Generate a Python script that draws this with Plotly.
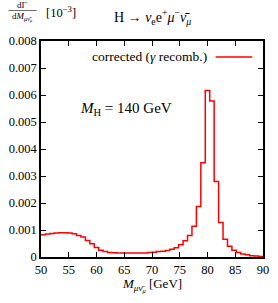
import plotly.graph_objects as go

# bin edges: 50 bins of 0.8 GeV from 50 to 90
x_start = 50.0
bin_width = 0.8
values = [
    0.00082, 0.00085, 0.00087, 0.00089, 0.00090, 0.00090, 0.00089, 0.00086, 0.00080, 0.00074,
    0.00061, 0.00049, 0.00035, 0.00025, 0.00020, 0.00017, 0.00016, 0.00015, 0.00015, 0.00015,
    0.00015, 0.00015, 0.00015, 0.00015, 0.00017, 0.00018, 0.00020, 0.00021, 0.00024, 0.00029,
    0.00034, 0.00045, 0.00060, 0.00080, 0.00114, 0.00187, 0.00349, 0.00617, 0.00578, 0.00280,
    0.00128, 0.00066, 0.00040, 0.00025, 0.00017, 0.00011, 0.00008, 0.00005, 0.00004, 0.00002,
]
x_ticks = [50, 55, 60, 65, 70, 75, 80, 85, 90]
y_ticks = [0, 0.001, 0.002, 0.003, 0.004, 0.005, 0.006, 0.007, 0.008]
y_ticklabels = ["0", "0.001", "0.002", "0.003", "0.004", "0.005", "0.006", "0.007", "0.008"]

edges = [x_start + bin_width * i for i in range(len(values) + 1)]
xs = edges
ys = values + [values[-1]]

FONT = "Liberation Serif"
fig = go.Figure()
fig.add_trace(go.Scatter(x=xs, y=ys, mode="lines", line=dict(color="#ff0000", width=1.5, shape="hv"),
                         showlegend=False, hoverinfo="skip"))

axis_common = dict(showline=True, linewidth=1.5, linecolor="black", mirror="ticks", ticks="inside",
                   ticklen=5, tickwidth=1.2, tickcolor="black", showgrid=False, zeroline=False,
                   tickfont=dict(family=FONT, size=12.5, color="black"))
fig.update_xaxes(range=[50, 90], tickvals=x_ticks, ticktext=[str(v) for v in x_ticks], **axis_common)
fig.update_yaxes(range=[0, 0.008], tickvals=y_ticks, ticktext=y_ticklabels, **axis_common)

def px2x(px):
    return (px - 39.5) / 229.5

def py2y(py):
    return (257.3 - py) / 216.3

ann = []
# title
ann.append(dict(text="H → <i>ν</i><sub>e</sub>e<sup>+</sup><i>μ</i><sup>−</sup><i>ν̄</i><sub><i>μ</i></sub>",
                x=px2x(155), y=py2y(17), font=dict(size=14)))
# y-axis label as fraction
ann.append(dict(text="dΓ", x=px2x(20), y=py2y(5), font=dict(size=9)))
ann.append(dict(text="d<i>M</i><sub><i>μν̄</i><sub><i>μ</i></sub></sub>", x=px2x(20), y=py2y(17), font=dict(size=9)))
ann.append(dict(text="[10<sup>−3</sup>]", x=px2x(60), y=py2y(12), font=dict(size=12.5)))
# legend
ann.append(dict(text="corrected (<i>γ</i> recomb.)", x=px2x(213), y=py2y(57), xanchor="right", font=dict(size=13.5)))
# M_H
ann.append(dict(text="<i>M</i><sub>H</sub> = 140 GeV", x=px2x(127), y=py2y(109), font=dict(size=15)))
# x-axis title
ann.append(dict(text="<i>M</i><sub><i>μν̄</i><sub><i>μ</i></sub></sub> [GeV]", x=px2x(154), y=py2y(285), font=dict(size=13)))

for a in ann:
    a.setdefault("xanchor", "center")
    a.update(xref="paper", yref="paper", showarrow=False, yanchor="middle")
    a["font"] = dict(family=FONT, color="black", size=a["font"]["size"])

fig.update_layout(
    width=278, height=303,
    margin=dict(l=40, r=9, t=41, b=46),
    paper_bgcolor="white", plot_bgcolor="white",
    annotations=ann,
    shapes=[
        dict(type="line", xref="paper", yref="paper", x0=px2x(220), x1=px2x(258), y0=py2y(57), y1=py2y(57),
             line=dict(color="#ff0000", width=1.5)),
        dict(type="line", xref="paper", yref="paper", x0=px2x(6), x1=px2x(35), y0=py2y(10.5), y1=py2y(10.5),
             line=dict(color="black", width=0.6)),
    ],
)
fig.write_html("out.html", config={"displayModeBar": False},
               post_script="document.body.style.margin='0';")
